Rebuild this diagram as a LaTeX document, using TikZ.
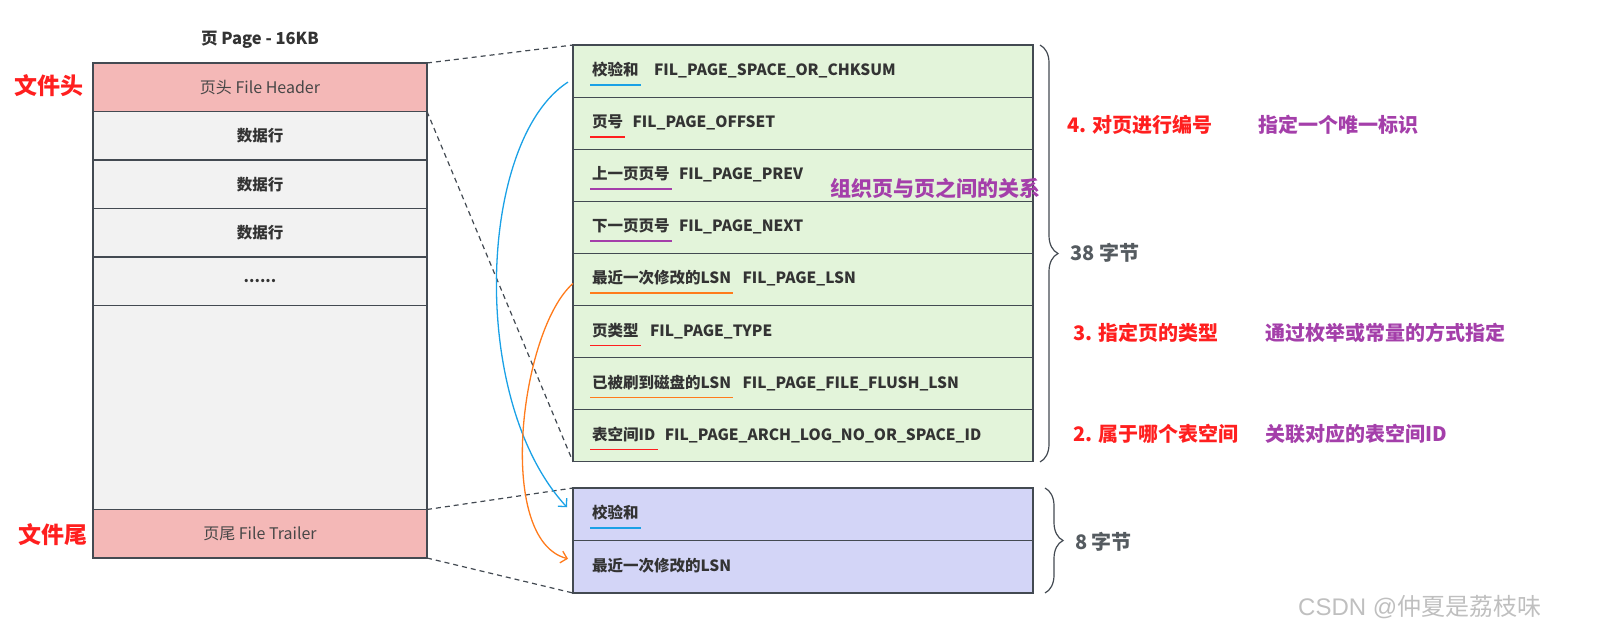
\documentclass[tikz,border=0pt]{standalone}
\usepackage{fontspec}
\setmainfont{Noto Sans CJK SC}
\newfontfamily\markfont{Liberation Sans}
\usetikzlibrary{arrows.meta,positioning,decorations.pathreplacing}

\definecolor{edgegray}{HTML}{434A52}
\definecolor{rowgray}{HTML}{F2F2F2}
\definecolor{endpink}{HTML}{F4B8B7}
\definecolor{hdrgreen}{HTML}{E3F4DA}
\definecolor{trlblue}{HTML}{D3D5F7}
\definecolor{txtgray}{HTML}{333333}
\definecolor{sizegray}{HTML}{555B60}
\definecolor{mred}{HTML}{FF1F1F}
\definecolor{mpurple}{HTML}{A43FAA}
\definecolor{mblue}{HTML}{1AA1E6}
\definecolor{morange}{HTML}{FF7B1C}

\begin{document}
\begin{tikzpicture}[
    x=1pt, y=-1pt,
    node distance=0pt,
    pagerow/.style={draw=edgegray, line width=1.2pt, fill=rowgray, minimum width=334pt, minimum height=48.5pt, inner sep=0pt, outer sep=0pt, font=\fontsize{15.5}{17}\selectfont\bfseries, text=txtgray},
    endrow/.style={pagerow, fill=endpink, font=\fontsize{16}{18}\selectfont, text=txtgray!90},
    hdrrow/.style={draw=edgegray, line width=1.2pt, fill=hdrgreen, minimum width=460pt, minimum height=52.1pt, inner sep=0pt, outer sep=0pt, anchor=north west},
    trlrow/.style={hdrrow, fill=trlblue, minimum height=52.5pt},
    field/.style={inner xsep=2pt, inner ysep=6pt, text height=12pt, text depth=3pt, font=\fontsize{15.5}{17}\selectfont\bfseries, text=txtgray},
    sidetag/.style={font=\fontsize{23}{25}\selectfont\bfseries, text=mred},
    note/.style={anchor=west, inner sep=0pt, font=\fontsize{20}{22}\selectfont\bfseries},
    dashlink/.style={draw=edgegray, line width=1.2pt, dash pattern=on 5pt off 4pt},
    hint/.style={line width=1.3pt, -{Straight Barb[length=6pt,width=12pt]}},
    bytes/.style={draw=edgegray, line width=1.2pt, decorate, decoration={brace, amplitude=18pt}},
    underl/.style={line width=1.5pt}
]
\useasboundingbox (0,0) rectangle (1597,635);

\node[font=\fontsize{16.5}{18}\selectfont\bfseries, text=txtgray] (title) at (260,40) {页 Page - 16KB};

\node[endrow, anchor=north west] (fhdr) at (93,63) {页头 File Header};
\node[pagerow, below=of fhdr] (row1) {数据行};
\node[pagerow, below=of row1] (row2) {数据行};
\node[pagerow, below=of row2] (row3) {数据行};
\node[pagerow, below=of row3] (rowdots) {......};
\node[pagerow, below=of rowdots, minimum height=204pt] (free) {};
\node[endrow, below=of free] (ftrl) {页尾 File Trailer};

\node[sidetag] (headtag) at (49,86) {文件头};
\node[sidetag] (tailtag) at (53,535) {文件尾};

\foreach \i/\cn/\code/\col/\gap in {
    1/校验和/FIL\_PAGE\_SPACE\_OR\_CHKSUM/mblue/11pt,
    2/页号/FIL\_PAGE\_OFFSET/mred/5pt,
    3/上一页页号/FIL\_PAGE\_PREV/mpurple/5pt,
    4/下一页页号/FIL\_PAGE\_NEXT/mpurple/5pt,
    5/最近一次修改的LSN/FIL\_PAGE\_LSN/morange/7pt,
    6/页类型/FIL\_PAGE\_TYPE/mred/7pt,
    7/已被刷到磁盘的LSN/FIL\_PAGE\_FILE\_FLUSH\_LSN/morange/7pt,
    8/表空间ID/FIL\_PAGE\_ARCH\_LOG\_NO\_OR\_SPACE\_ID/mred/5pt}{
  \node[hdrrow] (g\i) at (573,{45+52.1*(\i-1)}) {};
  \node[field, right=17pt of g\i.west] (c\i) {\cn};
  \node[field, right=\gap of c\i] (f\i) {\code};
  \draw[underl, draw=\col] (c\i.south west) -- (c\i.south east);
}

\node[trlrow] (b1) at (573,488) {};
\node[trlrow, below=of b1] (b2) {};
\node[field, right=17pt of b1.west] (bc1) {校验和};
\draw[underl, draw=mblue] (bc1.south west) -- (bc1.south east);
\node[field, right=17pt of b2.west] (bc2) {最近一次修改的LSN};

\draw[dashlink] (fhdr.north east) -- (g1.north west);
\draw[dashlink] (fhdr.south east) -- (g8.south west);
\draw[dashlink] (ftrl.north east) -- (b1.north west);
\draw[dashlink] (ftrl.south east) -- (b2.south west);

\coordinate (sumfrom) at ([shift={(-5,11)}]g1.west);
\coordinate (sumto) at ([shift={(-6,-7)}]b1.west);
\coordinate (lsnfrom) at ([shift={(0,4)}]g5.west);
\coordinate (lsnto) at ([shift={(-5,-8)}]b2.west);
\draw[hint, mblue] (sumfrom) .. controls (478,140) and (468,400) .. (sumto);
\draw[hint, morange] (lsnfrom) .. controls (520,330) and (495,540) .. (lsnto);

\draw[bytes] (1040,45) -- (1040,462);
\draw[bytes] (1045,488) -- (1045,593);
\node[note, text=sizegray] (b38) at (1070,253) {38 字节};
\node[note, text=sizegray] (b8) at (1075,542) {8 字节};

\node[note, text=mred] (n4) at (1067,125) {4. 对页进行编号};
\node[note, text=mpurple] (d4) at (1258,125) {指定一个唯一标识};
\node[note, text=mred] (n3) at (1073,333) {3. 指定页的类型};
\node[note, text=mpurple] (d3) at (1265,333) {通过枚举或常量的方式指定};
\node[note, text=mred] (n2) at (1073,434) {2. 属于哪个表空间};
\node[note, text=mpurple] (d2) at (1265,434) {关联对应的表空间ID};
\node[note, text=mpurple, font=\fontsize{21}{23}\selectfont\bfseries] (link) at (830,188) {组织页与页之间的关系};

\node[anchor=west, inner sep=0pt, font=\fontsize{24}{26}\selectfont, text=black!25] (csdn) at (1298,607) {{\markfont CSDN @}仲夏是荔枝味};
\end{tikzpicture}
\end{document}
